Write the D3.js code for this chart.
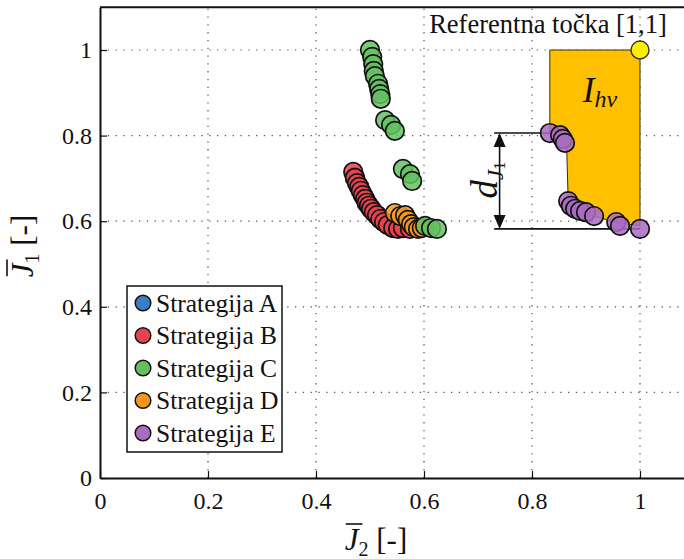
<!DOCTYPE html>
<html><head><meta charset="utf-8">
<script src="https://cdn.jsdelivr.net/npm/d3@7"></script>
<style>
html,body{margin:0;padding:0;background:#fff;}
svg text{font-family:"Liberation Serif","Tinos","DejaVu Serif",serif !important;}
</style></head>
<body>
<svg id="chart" width="684" height="559"></svg>
<script>
// ---------- data ----------
const xTicks = [0, 0.2, 0.4, 0.6, 0.8, 1];
const yTicks = [0, 0.2, 0.4, 0.6, 0.8, 1];
const xTickLabels = ["0", "0.2", "0.4", "0.6", "0.8", "1"];
const yTickLabels = ["0", "0.2", "0.4", "0.6", "0.8", "1"];

const seriesNames = ["Strategija A", "Strategija B", "Strategija C", "Strategija D", "Strategija E"];
const seriesColors = ["#3a7dc4", "#e8434c", "#64bf62", "#f7961f", "#a86cc1"];

// Strategija A (hidden under B)
const aJ2 = [0.472, 0.480, 0.487, 0.494, 0.502, 0.513, 0.526, 0.543, 0.561];
const aJ1 = [0.703, 0.680, 0.661, 0.643, 0.629, 0.614, 0.598, 0.584, 0.584];
// Strategija B
const bJ2 = [0.469, 0.472, 0.476, 0.480, 0.483, 0.487, 0.491, 0.494, 0.498, 0.502, 0.507, 0.513, 0.519, 0.526, 0.533, 0.543, 0.552, 0.561, 0.574];
const bJ1 = [0.715, 0.701, 0.689, 0.680, 0.671, 0.661, 0.652, 0.643, 0.636, 0.629, 0.621, 0.614, 0.605, 0.598, 0.591, 0.584, 0.582, 0.584, 0.582];
// Strategija C
const cJ2 = [0.500, 0.504, 0.506, 0.507, 0.509, 0.515, 0.517, 0.519, 0.520, 0.528, 0.539, 0.546, 0.561, 0.574, 0.578, 0.602, 0.613, 0.624];
const cJ1 = [1.000, 0.984, 0.967, 0.951, 0.939, 0.921, 0.909, 0.897, 0.886, 0.836, 0.825, 0.811, 0.722, 0.710, 0.694, 0.589, 0.584, 0.582];
// Strategija D
const dJ2 = [0.546, 0.556, 0.565, 0.570, 0.576, 0.581, 0.589, 0.596];
const dJ1 = [0.619, 0.612, 0.614, 0.603, 0.593, 0.586, 0.582, 0.584];
// Strategija E
const eJ2 = [0.833, 0.852, 0.857, 0.861, 0.867, 0.872, 0.880, 0.889, 0.900, 0.915, 0.956, 0.963, 1.000];
const eJ1 = [0.806, 0.801, 0.792, 0.783, 0.647, 0.636, 0.629, 0.624, 0.621, 0.612, 0.598, 0.589, 0.582];

// hypervolume region outline
const hvJ2 = [0.833, 1.000, 1.000, 0.963, 0.915, 0.889, 0.867, 0.864, 0.852, 0.833];
const hvJ1 = [1.000, 1.000, 0.590, 0.595, 0.612, 0.624, 0.650, 0.780, 0.795, 0.806];

const refPoint = [1, 1];
const dJ1Range = [0.582, 0.806];

// ---------- drawing ----------
const svg = d3.select("#chart");
const x = d3.scaleLinear().domain([0, 1.1]).range([100, 694]);
const y = d3.scaleLinear().domain([0, 1.1]).range([478, 7.2]);

svg.append("defs").append("clipPath").attr("id", "pc")
  .append("rect").attr("x", 100).attr("y", 7.2).attr("width", 594).attr("height", 470.8);

// grid
const grid = svg.append("g").attr("stroke", "#555").attr("stroke-width", 1.2)
  .attr("stroke-dasharray", "1.3,6.5");
grid.selectAll(".gx").data(xTicks.slice(1)).join("line")
  .attr("x1", d => x(d)).attr("x2", d => x(d)).attr("y1", y(0)).attr("y2", y(1.1));
grid.selectAll(".gy").data(yTicks.slice(1)).join("line")
  .attr("y1", d => y(d)).attr("y2", d => y(d)).attr("x1", x(0)).attr("x2", x(1.1));

// hypervolume polygon
const hvPts = hvJ2.map((v, i) => [x(v), y(hvJ1[i])]);
svg.append("polygon").attr("points", hvPts.map(p => p.join(",")).join(" "))
  .attr("fill", "#ffc000").attr("stroke", "#3a3000").attr("stroke-width", 1);

// axes
const xAxis = d3.axisBottom(x).tickValues(xTicks).tickFormat((d, i) => xTickLabels[i])
  .tickSizeInner(-7).tickSizeOuter(0).tickPadding(11);
const yAxis = d3.axisLeft(y).tickValues(yTicks).tickFormat((d, i) => yTickLabels[i])
  .tickSizeInner(-7).tickSizeOuter(0).tickPadding(8);
const gx = svg.append("g").attr("transform", `translate(0,${y(0)})`).call(xAxis);
const gy = svg.append("g").attr("transform", `translate(${x(0)},0)`).call(yAxis);
[gx, gy].forEach(g => {
  g.select(".domain").attr("stroke", "#111").attr("stroke-width", 2);
  g.selectAll(".tick line").attr("stroke", "#111").attr("stroke-width", 1.2);
  g.selectAll(".tick text").attr("fill", "#111").style("font-size", "24px");
});
gx.selectAll(".tick text").attr("dy", "0.82em");
// top border
svg.append("line").attr("x1", x(0)).attr("x2", x(1.1)).attr("y1", y(1.1)).attr("y2", y(1.1))
  .attr("stroke", "#111").attr("stroke-width", 2);

// d_J1 annotation
const ann = svg.append("g").attr("stroke", "#111").attr("stroke-width", 1.6);
ann.append("line").attr("x1", x(0.73)).attr("x2", x(0.833)).attr("y1", y(dJ1Range[1])).attr("y2", y(dJ1Range[1]));
ann.append("line").attr("x1", x(0.73)).attr("x2", x(1.0)).attr("y1", y(dJ1Range[0])).attr("y2", y(dJ1Range[0]));
const ax = x(0.74);
ann.append("line").attr("x1", ax).attr("x2", ax).attr("y1", y(dJ1Range[1]) + 10).attr("y2", y(dJ1Range[0]) - 10);
svg.append("path").attr("fill", "#111")
  .attr("d", `M${ax},${y(dJ1Range[1])} l-6,14 l12,0 Z M${ax},${y(dJ1Range[0])} l-6,-14 l12,0 Z`);

// series points
const series = [
  {x: aJ2, y: aJ1, c: seriesColors[0]},
  {x: bJ2, y: bJ1, c: seriesColors[1]},
  {x: dJ2, y: dJ1, c: seriesColors[3]},
  {x: cJ2, y: cJ1, c: seriesColors[2]},
  {x: eJ2, y: eJ1, c: seriesColors[4]}
];
const pg = svg.append("g").attr("clip-path", "url(#pc)");
series.forEach(s => {
  pg.append("g").selectAll("circle").data(s.x.map((v, i) => [v, s.y[i]])).join("circle")
    .attr("cx", d => x(d[0])).attr("cy", d => y(d[1])).attr("r", 9.3)
    .attr("fill", s.c).attr("fill-opacity", 0.85)
    .attr("stroke", "#111").attr("stroke-width", 1.7);
});

// reference point
svg.append("circle").attr("cx", x(refPoint[0])).attr("cy", y(refPoint[1])).attr("r", 9)
  .attr("fill", "#ffee00").attr("stroke", "#333").attr("stroke-width", 1.4);
svg.append("text").attr("x", 548).attr("y", 33).attr("text-anchor", "middle")
  .style("font-size", "26.5px").attr("fill", "#111").text("Referentna točka [1,1]");

// I_hv label
const ih = svg.append("text").attr("x", 600).attr("y", 102).attr("text-anchor", "middle")
  .attr("fill", "#111").style("font-style", "italic");
ih.append("tspan").style("font-size", "35px").text("I");
ih.append("tspan").style("font-size", "24px").attr("dy", 5).text("hv");

// d_J1 label
const dl = svg.append("text").attr("transform", `translate(497,180) rotate(-90)`)
  .attr("text-anchor", "middle").attr("fill", "#111").style("font-style", "italic");
dl.append("tspan").style("font-size", "37px").text("d");
dl.append("tspan").style("font-size", "23px").attr("dy", 6).text("J");
dl.append("tspan").style("font-size", "17px").style("font-style", "normal").attr("dy", 2).text("1");

// axis labels with overline
function overLabel(g, sub) {
  const t = g.append("text").attr("text-anchor", "middle").attr("fill", "#111").style("font-size", "31px");
  t.append("tspan").style("font-style", "italic").text("J");
  t.append("tspan").style("font-size", "20px").attr("dy", 6).text(sub);
  t.append("tspan").attr("dy", -6).text(" [-]");
  const ext = t.node().getExtentOfChar(0);
  g.append("line").attr("x1", ext.x + 1).attr("x2", ext.x + ext.width + 4)
    .attr("y1", ext.y + 2).attr("y2", ext.y + 2).attr("stroke", "#111").attr("stroke-width", 1.6);
}
overLabel(svg.append("g").attr("transform", "translate(376,550)"), "2");
overLabel(svg.append("g").attr("transform", "translate(33,246) rotate(-90)"), "1");

// legend
const lg = svg.append("g");
lg.append("rect").attr("x", 127).attr("y", 286).attr("width", 155).attr("height", 166)
  .attr("fill", "#fff").attr("stroke", "#111").attr("stroke-width", 1.5);
seriesNames.forEach((n, i) => {
  const yy = 303 + i * 32.5;
  lg.append("circle").attr("cx", 143).attr("cy", yy).attr("r", 7.8)
    .attr("fill", seriesColors[i]).attr("stroke", "#111").attr("stroke-width", 1.5);
  lg.append("text").attr("x", 156).attr("y", yy + 8.5).style("font-size", "25.5px")
    .attr("fill", "#111").text(n);
});
</script>
</body></html>
